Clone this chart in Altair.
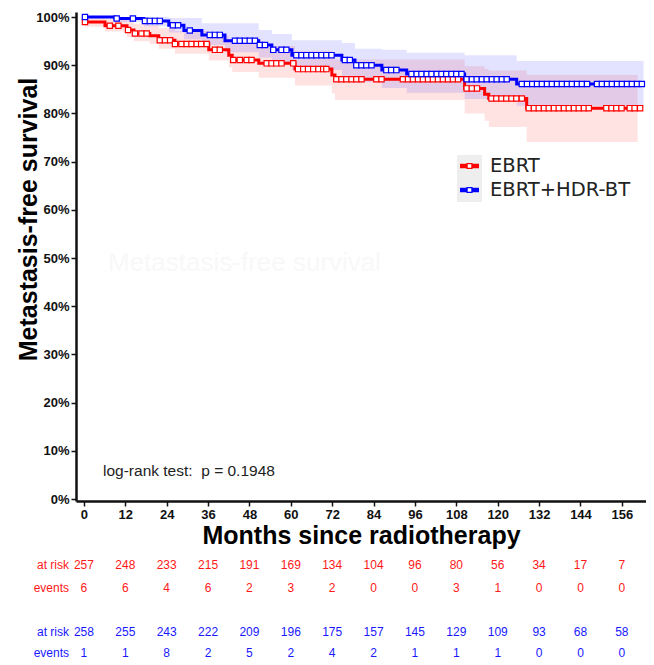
import altair as alt
import pandas as pd

# ---------------- data ----------------
groups = ["EBRT", "EBRT+HDR-BT"]
colors = ["#ff0000", "#0000ff"]

ebrt_time  = [0, 0.3, 6.1, 12.5, 14.5, 19.1, 21.7, 26.4, 36.2, 42.0, 43.0, 50.7, 61.2, 71.9, 72.8, 110.4, 116.2, 117.4, 128.4]
ebrt_surv  = [100, 99.0, 98.2, 97.3, 96.6, 96.1, 95.2, 94.4, 93.2, 92.1, 91.1, 90.4, 89.2, 88.0, 87.1, 85.2, 84.0, 83.1, 81.1]
ebrt_lower = [100, 98.0, 97.0, 95.8, 95.0, 94.4, 93.4, 92.4, 91.0, 89.6, 88.6, 87.4, 85.8, 84.2, 82.8, 80.0, 78.5, 77.2, 74.1]
ebrt_upper = [100, 100, 99.6, 99.1, 98.6, 98.3, 97.7, 97.1, 96.2, 95.4, 94.6, 94.0, 93.0, 92.0, 91.2, 89.8, 89.2, 88.9, 88.0]
ebrt_end = 161.6
ebrt_band_end = 160.6
ebrt_censor = [0.3, 7.5, 10, 12.8, 14.8, 16.7, 18.2, 22, 23.5, 25, 26.4, 28.3, 29.8, 31.2, 32.7, 34, 35.6, 38, 39.4,
               43.3, 45.2, 47.2, 48.6, 53, 54.4, 55.8, 57.3, 60.7, 62.1, 63.6, 65, 66.5, 68, 69.4, 70.3, 73.2,
               74.7, 76.1, 77.6, 79, 80.5, 84.8, 86.3, 92.5, 94, 95.4, 96.9, 98.3, 99.8, 101.2, 102.7, 104.1,
               105.6, 107, 108.5, 111, 112.5, 114, 118.2, 119.6, 121.1, 122.5, 124, 125.4, 127, 129, 130.5,
               131.9, 133.4, 134.8, 136.3, 137.7, 139.2, 140.6, 142.1, 143.5, 145, 146.4, 151.5, 153, 154.4,
               155.9, 158.3, 159.7, 161.3]

hdr_time  = [0, 9, 17.4, 24.6, 29, 34.2, 40.9, 50.7, 54.5, 60.3, 74.8, 78.6, 86.4, 93.6, 110.4, 125.5]
hdr_surv  = [100, 99.7, 99.2, 98.3, 97.2, 96.3, 95.1, 94.2, 93.2, 92.1, 91.1, 90.0, 89.0, 88.2, 87.1, 86.1]
hdr_lower = [100, 99.0, 98.1, 96.8, 95.4, 94.2, 92.7, 91.6, 90.3, 89.0, 87.8, 86.5, 85.3, 84.3, 83.0, 81.6]
hdr_upper = [100, 100, 100, 99.8, 99.8, 98.7, 98.7, 97.3, 96.5, 95.2, 94.6, 93.4, 93.2, 92.6, 92.1, 90.9]
hdr_end = 162.6
hdr_band_end = 162.3
hdr_censor = [0.3, 9.5, 14.2, 17.7, 19.1, 20.6, 22, 25.8, 27.3, 30.7, 36.5, 38, 39.4, 43.8, 45.2, 46.7, 48.1,
              49.6, 51, 52.5, 54.9, 57.3, 58.7, 61.6, 63.1, 64.5, 66, 67.4, 68.9, 70.3, 71.8, 75.7, 77.1, 79,
              80.5, 81.9, 83.4, 87.7, 89.1, 90.6, 95, 96.5, 97.9, 99.4, 100.8, 102.3, 103.7, 105.1, 106.6, 108,
              109.5, 111, 112.5, 113.9, 115.4, 116.8, 118.3, 119.7, 121.2, 122.6, 127, 128.5, 130, 131.4, 132.8,
              134.3, 135.7, 137.2, 138.6, 140.1, 141.5, 143, 144.4, 145.9, 148.8, 150.2, 151.7, 153.1, 154.6,
              156, 157.5, 158.9, 160.4, 161.8]

risk_months = [0, 12, 24, 36, 48, 60, 72, 84, 96, 108, 120, 132, 144, 156]
ebrt_at_risk = [257, 248, 233, 215, 191, 169, 134, 104, 96, 80, 56, 34, 17, 7]
ebrt_events = [6, 6, 4, 6, 2, 3, 2, 0, 0, 3, 1, 0, 0, 0]
hdr_at_risk = [258, 255, 243, 222, 209, 196, 175, 157, 145, 129, 109, 93, 68, 58]
hdr_events = [1, 1, 8, 2, 5, 2, 4, 2, 1, 1, 1, 0, 0, 0]

y_ticks = [0, 10, 20, 30, 40, 50, 60, 70, 80, 90, 100]
x_ticks = risk_months

# ---------------- tables ----------------
def surv_at(t, s, m):
    v = s[0]
    for a, b in zip(t, s):
        if a <= m:
            v = b
    return v

series = [
    (groups[0], ebrt_time, ebrt_surv, ebrt_lower, ebrt_upper, ebrt_end, ebrt_band_end, ebrt_censor),
    (groups[1], hdr_time, hdr_surv, hdr_lower, hdr_upper, hdr_end, hdr_band_end, hdr_censor),
]
line_rows, band_rows, cens_rows = [], [], []
for g, t, s, lo, hi, end, bend, cens in series:
    for a, b in zip(t, s):
        line_rows.append({"group": g, "month": a, "surv": b})
    line_rows.append({"group": g, "month": end, "surv": s[-1]})
    for a, l, h in zip(t, lo, hi):
        band_rows.append({"group": g, "month": a, "lower": l, "upper": h})
    band_rows.append({"group": g, "month": bend, "lower": lo[-1], "upper": hi[-1]})
    for m in cens:
        cens_rows.append({"group": g, "month": m, "surv": surv_at(t, s, m)})

line_df = pd.DataFrame(line_rows)
band_df = pd.DataFrame(band_rows)
cens_df = pd.DataFrame(cens_rows)

W, H = 570, 489
FONT = "Liberation Sans"

xscale = alt.Scale(domain=[-2.3, 163], nice=False, zero=False)
yscale = alt.Scale(domain=[-0.4, 101.05], nice=False, zero=False)
cscale = alt.Scale(domain=groups, range=colors)

x_axis = alt.Axis(values=x_ticks, title="Months since radiotherapy", titleFontSize=25,
                  titleFontWeight="bold", titleFont=FONT, titleColor="#000", titleY=34,
                  titleBaseline="middle", labelFontSize=13, labelFontWeight="bold",
                  labelFont=FONT, labelColor="#111", labelPadding=2, tickSize=5, tickWidth=1.5,
                  tickColor="#111", domainColor="#111", domainWidth=2.5, grid=False, labelFlush=False)
y_axis = alt.Axis(values=y_ticks, labelExpr="datum.value + '%'", title="Metastasis-free survival",
                  titleFontSize=25, titleFontWeight="bold", titleFont=FONT, titleColor="#000",
                  titleX=-48, titleY=207, titleAngle=270, titleAlign="center", titleBaseline="middle",
                  labelFontSize=13, labelFontWeight="bold", labelFont=FONT, labelColor="#111",
                  labelPadding=2, tickSize=5, tickWidth=1.5, tickColor="#111", domainColor="#111",
                  domainWidth=2.5, grid=False, labelFlush=False)

band = alt.Chart(band_df).mark_area(interpolate="step-after", opacity=0.11).encode(
    x=alt.X("month:Q", scale=xscale, axis=x_axis),
    y=alt.Y("lower:Q", scale=yscale, axis=y_axis),
    y2="upper:Q",
    color=alt.Color("group:N", scale=cscale, legend=None),
)
lines = alt.Chart(line_df).mark_line(interpolate="step-after", strokeWidth=3).encode(
    x=alt.X("month:Q", scale=xscale),
    y=alt.Y("surv:Q", scale=yscale),
    color=alt.Color("group:N", scale=cscale, legend=None),
)
cens = alt.Chart(cens_df).mark_point(shape="square", size=28, filled=True, fill="white",
                                     strokeWidth=1.2, opacity=1).encode(
    x=alt.X("month:Q", scale=xscale),
    y=alt.Y("surv:Q", scale=yscale),
    stroke=alt.Stroke("group:N", scale=cscale, legend=None),
)

one = pd.DataFrame({"k": [0]})
logrank = alt.Chart(one).mark_text(text="log-rank test: \u00a0p = 0.1948", align="left", baseline="middle",
                                   font=FONT, fontSize=15.5, color="#222").encode(
    x=alt.value(27), y=alt.value(459))
watermark = alt.Chart(one).mark_text(text="Metastasis-free survival", align="left", baseline="middle",
                                     font=FONT, fontSize=26, color="#f8f8f8").encode(
    x=alt.value(32), y=alt.value(251))

layers = [band, lines, cens, logrank, watermark]

# legend (drawn by hand)
layers.append(alt.Chart(one).mark_rect(color="#eeeeee").encode(
    x=alt.value(381), x2=alt.value(406), y=alt.value(143), y2=alt.value(190)))
for g, c, ly in zip(groups, colors, [154, 178]):
    layers.append(alt.Chart(one).mark_rule(color=c, strokeWidth=4.5).encode(
        x=alt.value(384), x2=alt.value(403), y=alt.value(ly)))
    layers.append(alt.Chart(one).mark_point(shape="square", size=24, filled=True, fill="white",
                                            stroke=c, strokeWidth=1.3, opacity=1).encode(
        x=alt.value(393.5), y=alt.value(ly)))
    layers.append(alt.Chart(one).mark_text(text=g, align="left", baseline="middle", font="DejaVu Sans",
                                           fontSize=19.5, color="#222").encode(
        x=alt.value(414), y=alt.value(ly)))

# risk table
rows = [
    ("at risk", ebrt_at_risk, colors[0], 553),
    ("events", ebrt_events, colors[0], 576),
    ("at risk", hdr_at_risk, colors[1], 620),
    ("events", hdr_events, colors[1], 641),
]
for label, vals, c, ry in rows:
    df = pd.DataFrame({"month": risk_months, "v": vals})
    layers.append(alt.Chart(df).mark_text(font=FONT, fontSize=12, color=c, baseline="middle",
                                          align="center", opacity=0.9).encode(
        x=alt.X("month:Q", scale=xscale), y=alt.value(ry), text="v:Q"))
    layers.append(alt.Chart(one).mark_text(text=label, font=FONT, fontSize=12, color=c,
                                           baseline="middle", align="right", opacity=0.9).encode(
        x=alt.value(-7), y=alt.value(ry)))

chart = alt.layer(*layers).properties(
    width=W, height=H,
    padding={"left": 68, "top": 4, "right": 0, "bottom": 160},
    autosize=alt.AutoSizeParams(type="none"),
).configure_view(stroke=None)

chart.save("out.html", embed_options={"renderer": "svg", "actions": False})
